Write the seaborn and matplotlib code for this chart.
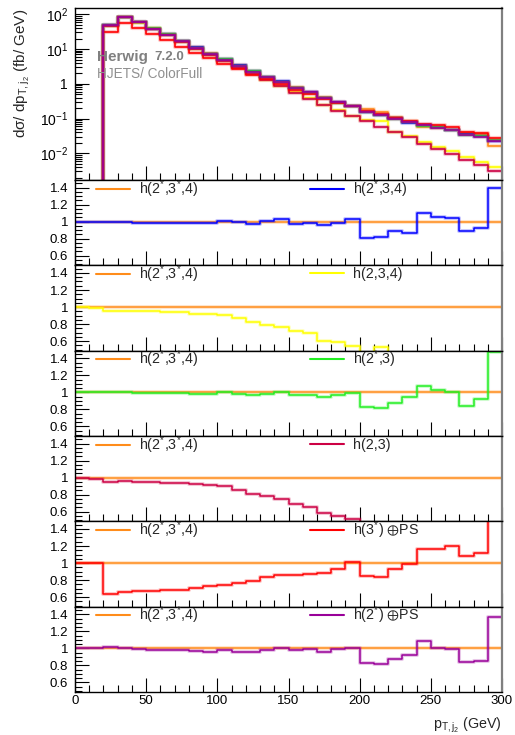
import numpy as np
import seaborn as sns
import matplotlib.pyplot as plt
from matplotlib.lines import Line2D
from matplotlib.ticker import FixedLocator, FixedFormatter, MultipleLocator, LogLocator, NullFormatter

# -----------------------------
# data
# -----------------------------
edges = np.arange(0, 310, 10)          # pT bin edges (GeV)

# reference cross section h(2*,3*,4), bins 20..300 (fb/GeV)
ref_xs = [49, 85, 61, 39.5, 26.5, 17.4, 11.2, 7.5, 5.06, 3.4, 2.34, 1.6, 1.15, 0.79,
          0.568, 0.408, 0.30, 0.225, 0.192, 0.158, 0.113, 0.087, 0.058, 0.055,
          0.046, 0.039, 0.035, 0.0166]

# ratios to h(2*,3*,4), bins 0..300
ratio_blue = [1.0, 1.0, 1.0, 1.0, 0.99, 0.985, 0.99, 0.99, 0.99, 0.99, 1.005, 1.0, 0.975,
              1.005, 1.03, 0.97, 0.99, 0.965, 0.99, 1.03, 0.81, 0.82, 0.895, 0.87, 1.105,
              1.06, 1.04, 0.895, 0.92, 1.40]
ratio_yellow = [1.0, 0.99, 0.955, 0.953, 0.95, 0.948, 0.946, 0.945, 0.92, 0.915, 0.91,
                0.867, 0.827, 0.79, 0.77, 0.715, 0.69, 0.605, 0.585, 0.54, 0.46, 0.53,
                0.37, 0.36, 0.355, 0.27, 0.26, 0.195, 0.156, 0.25]
ratio_green = [1.0, 1.0, 1.0, 1.0, 0.99, 0.99, 0.99, 0.99, 0.985, 0.985, 1.0, 0.975, 0.97,
               0.98, 1.0, 0.97, 0.97, 0.945, 0.965, 0.99, 0.825, 0.82, 0.87, 0.945, 1.08,
               1.025, 1.005, 0.845, 0.925, 1.475]
ratio_crimson = [1.0, 0.99, 0.953, 0.96, 0.955, 0.95, 0.94, 0.935, 0.925, 0.91, 0.905,
                 0.85, 0.81, 0.78, 0.75, 0.685, 0.655, 0.59, 0.545, 0.52, 0.44, 0.37,
                 0.36, 0.34, 0.31, 0.25, 0.21, 0.16, 0.13, 0.19]
ratio_red = [1.0, 1.0, 0.64, 0.655, 0.667, 0.675, 0.68, 0.68, 0.705, 0.725, 0.745, 0.765,
             0.79, 0.835, 0.86, 0.86, 0.875, 0.88, 0.925, 1.01, 0.845, 0.835, 0.935, 0.99,
             1.165, 1.17, 1.205, 1.085, 1.12, 1.7]
ratio_purple = [1.0, 1.0, 1.02, 1.01, 0.99, 0.98, 0.975, 0.975, 0.965, 0.96, 0.975, 0.96,
                0.96, 0.985, 1.005, 0.975, 0.99, 0.96, 0.99, 1.005, 0.825, 0.815, 0.88,
                0.925, 1.09, 1.005, 0.99, 0.845, 0.85, 1.37]

ref_label = r"h(2$^{*}$,3$^{*}$,4)"
ref_color = "#ff8c1a"
series = [
    (r"h(2$^{*}$,3,4)", ratio_blue, "#0000ff"),
    (r"h(2,3,4)", ratio_yellow, "#ffff00"),
    (r"h(2$^{*}$,3)", ratio_green, "#22ee22"),
    (r"h(2,3)", ratio_crimson, "#cc0044"),
    (r"h(3$^{*}$) $\oplus$PS", ratio_red, "#ff0000"),
    (r"h(2$^{*}$) $\oplus$PS", ratio_purple, "#990099"),
]

log_ticks = [1e-2, 1e-1, 1, 10, 100]
log_ticklabels = [r"$10^{-2}$", r"$10^{-1}$", "1", r"$10^{1}$", r"$10^{2}$"]
ratio_ticks = [0.6, 0.8, 1.0, 1.2, 1.4]
ratio_ticklabels = ["0.6", "0.8", "1", "1.2", "1.4"]
x_ticks = [0, 50, 100, 150, 200, 250, 300]

# -----------------------------
# style
# -----------------------------
sns.set_style("ticks")
plt.rcParams["font.family"] = ["Liberation Sans", "DejaVu Sans"]
plt.rcParams["mathtext.fontset"] = "custom"
plt.rcParams["mathtext.rm"] = "Liberation Sans"
plt.rcParams["mathtext.it"] = "Liberation Sans"
plt.rcParams["mathtext.bf"] = "Liberation Sans:bold"
plt.rcParams["mathtext.fallback"] = "stixsans"
FS = 9.5
LFS = 10.3

W, H = 515, 735
fig = plt.figure(figsize=(W / 100, H / 100), dpi=100)


def frac(x0, y0, x1, y1):
    return [x0 / W, 1 - y1 / H, (x1 - x0) / W, (y1 - y0) / H]


def step(ax, xs, ys, color, lw=1.1):
    sns.lineplot(x=xs, y=ys, ax=ax, color=color, lw=lw + 1.8, alpha=0.22,
                 drawstyle="steps-post", sort=False, estimator=None)
    sns.lineplot(x=xs, y=ys, ax=ax, color=color, lw=lw,
                 drawstyle="steps-post", sort=False, estimator=None)


def style_axes(ax):
    for s in ["top", "left", "bottom"]:
        ax.spines[s].set_color("black")
        ax.spines[s].set_linewidth(1.0)
    ax.spines["right"].set_color("#808080")
    ax.spines["right"].set_linewidth(1.6)
    ax.set_xlim(0, 300)
    ax.xaxis.set_major_locator(FixedLocator(x_ticks))
    ax.xaxis.set_minor_locator(MultipleLocator(10))
    ax.tick_params(axis="both", which="both", direction="in", top=False, right=False,
                   labelsize=FS, colors="black")
    ax.tick_params(axis="x", which="major", length=10, width=0.8, pad=2)
    ax.tick_params(axis="x", which="minor", length=5, width=0.8)
    ax.tick_params(axis="y", which="major", length=10, width=0.8, pad=5)
    ax.tick_params(axis="y", which="minor", length=5, width=0.8)
    ax.set_xlabel("")
    ax.set_ylabel("")


# -----------------------------
# main panel
# -----------------------------
ax0 = fig.add_axes(frac(75, 8, 502, 180))
ax0.set_yscale("log")
ref_arr = np.array(ref_xs)
xs_main = [edges[2]] + list(edges[2:])
curves = [(ref_arr, ref_color)] + [(ref_arr * np.array(r[2:]), c) for _, r, c in series]
for vals, c in curves:
    ys = [1e-6] + list(vals) + [vals[-1]]
    step(ax0, xs_main, ys, c, lw=1.2)
style_axes(ax0)
ax0.set_ylim(10 ** -2.768, 10 ** 2.181)
ax0.yaxis.set_major_locator(FixedLocator(log_ticks))
ax0.yaxis.set_major_formatter(FixedFormatter(log_ticklabels))
ax0.yaxis.set_minor_locator(LogLocator(base=10, subs=np.arange(2, 10)))
ax0.yaxis.set_minor_formatter(NullFormatter())
ax0.tick_params(axis="x", labelbottom=False)
ax0.tick_params(axis="y", which="major", labelsize=10)

fig.text(97 / W, 1 - 57 / H, "Herwig", fontsize=11, fontweight="bold", color="#808080",
         ha="left", va="center")
fig.text(154 / W, 1 - 57.5 / H, "7.2.0", fontsize=9.5, fontweight="bold", color="#808080",
         ha="left", va="center")
fig.text(97 / W, 1 - 73.5 / H, "HJETS/ ColorFull", fontsize=9.8, color="#909090",
         ha="left", va="center")
fig.text(22 / W, 1 - 9 / H, r"d$\sigma$/ d$\mathrm{p}_{\mathrm{T,j}_{2}}$ (fb/ GeV)",
         rotation=90, fontsize=11, ha="center", va="top")

# -----------------------------
# ratio panels
# -----------------------------
top = 180.0
ph = (692 - 180) / 6
ones = ref_arr / ref_arr
ref_ratio = [1.0, 1.0] + list(ones)
for i, (lab, rat, c) in enumerate(series):
    y0 = top + i * ph
    ax = fig.add_axes(frac(75, y0, 502, y0 + ph))
    step(ax, list(edges), ref_ratio + [ref_ratio[-1]], ref_color, lw=1.1)
    step(ax, list(edges), list(rat) + [rat[-1]], c, lw=1.1)
    style_axes(ax)
    ax.set_ylim(0.487, 1.49)
    ax.yaxis.set_major_locator(FixedLocator(ratio_ticks))
    ax.yaxis.set_major_formatter(FixedFormatter(ratio_ticklabels))
    ax.yaxis.set_minor_locator(MultipleLocator(0.05))
    if i < len(series) - 1:
        ax.tick_params(axis="x", labelbottom=False)
    else:
        ax.set_xticklabels([str(t) for t in x_ticks])

    h_ref = Line2D([], [], color=ref_color, lw=1.5)
    h_s = Line2D([], [], color=c, lw=1.5)
    leg1 = ax.legend([h_ref], [ref_label], loc="center left", bbox_to_anchor=(0.049, 0.895),
                     frameon=False, borderpad=0, borderaxespad=0, handlelength=2.4,
                     handletextpad=0.62, fontsize=LFS)
    ax.add_artist(leg1)
    ax.legend([h_s], [lab], loc="center left", bbox_to_anchor=(0.55, 0.895),
              frameon=False, borderpad=0, borderaxespad=0, handlelength=2.4,
              handletextpad=0.62, fontsize=LFS)

fig.text(502 / W, 1 - 725 / H, r"$\mathrm{p}_{\mathrm{T,j}_{2}}$ (GeV)", fontsize=10.3,
         ha="right", va="center")

fig.savefig("out.png", dpi=100)
